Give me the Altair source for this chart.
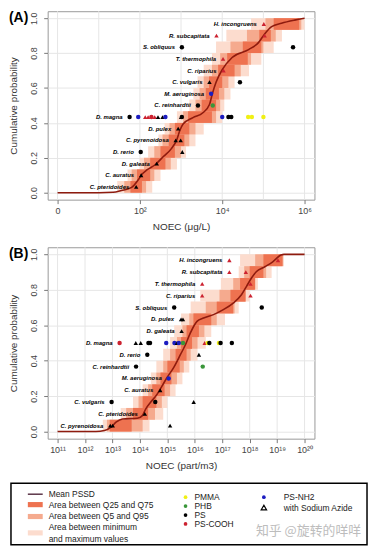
import altair as alt
import pandas as pd

# ---------------- shared categories / styles ----------------
polymers = ["PMMA", "PHB", "PS", "PS-COOH", "PS-NH2"]
polymer_colors = ["#F0F014", "#3A963A", "#000000", "#CC2230", "#1C1CC0"]
azide_levels = ["no", "yes"]
band_labels = ["Area between Q25 and Q75", "Area between Q5 and Q95",
               "Area between minimum\nand maximum values"]
band_colors = ["#EE7250", "#F5AA8E", "#FCDCCE"]
curve_label = "Mean PSSD"
azide_label = "with Sodium Azide"
watermark = "知乎 @旋转的咩咩"
prob_ticks = [0.0, 0.2, 0.4, 0.6, 0.8, 1.0]

# ---------------- Panel A (NOEC µg/L, log10) ----------------
a_species = ["C. pteridoides", "C. auratus", "D. galeata", "D. rerio", "C. pyrenoidosa",
             "D. pulex", "D. magna", "C. reinhardtii", "M. aeruginosa", "C. vulgaris",
             "C. riparius", "T. thermophila", "S. obliquus", "R. subcapitata", "H. incongruens"]
a_curve_x = [0.0, 1.0, 1.35, 1.55, 1.8, 1.97, 2.05, 2.17, 2.37, 2.57, 2.77, 2.89, 2.97, 3.05,
             3.29, 3.53, 3.69, 3.76, 3.85, 4.0, 4.24, 4.64, 4.88, 5.03, 5.2, 5.44, 5.76, 6.0]
a_curve_p = [0.0, 0.0, 0.002, 0.012, 0.03, 0.077, 0.105, 0.13, 0.16, 0.207, 0.254, 0.30, 0.356,
             0.393, 0.43, 0.458, 0.505, 0.567, 0.633, 0.705, 0.775, 0.82, 0.86, 0.91, 0.952,
             0.971, 0.989, 1.0]
a_mm_lo = [1.45, 1.7, 2.0, 2.2, 2.45, 2.6, 2.9, 3.2, 3.3, 3.4, 3.55, 3.75, 3.85, 4.1, 4.7]
a_mm_hi = [2.3, 2.5, 2.9, 3.12, 3.35, 3.55, 4.0, 4.05, 4.2, 4.3, 4.65, 4.95, 5.25, 5.45, 6.0]
a_q5_lo = [1.62, 1.8, 2.1, 2.35, 2.55, 2.72, 3.05, 3.35, 3.45, 3.55, 3.75, 3.95, 4.2, 4.6, 5.05]
a_q5_hi = [2.15, 2.35, 2.75, 3.0, 3.2, 3.35, 3.85, 3.95, 4.05, 4.15, 4.45, 4.7, 5.0, 5.3, 5.92]
a_q25_lo = [1.77, 1.93, 2.25, 2.5, 2.7, 2.85, 3.17, 3.5, 3.6, 3.68, 3.9, 4.12, 4.5, 4.9, 5.25]
a_q25_hi = [2.05, 2.25, 2.62, 2.85, 3.08, 3.2, 3.75, 3.85, 3.92, 4.0, 4.3, 4.62, 4.95, 5.18, 5.87]
a_pt_species = ["C. pteridoides", "C. auratus", "D. galeata", "D. rerio", "D. rerio",
                "C. pyrenoidosa", "C. pyrenoidosa", "D. pulex",
                "D. magna", "D. magna", "D. magna", "D. magna", "D. magna", "D. magna",
                "D. magna", "D. magna", "D. magna", "D. magna", "D. magna", "D. magna",
                "D. magna", "D. magna", "D. magna", "D. magna", "D. magna",
                "C. reinhardtii", "C. reinhardtii", "M. aeruginosa", "C. vulgaris", "C. vulgaris",
                "C. riparius", "T. thermophila", "S. obliquus", "S. obliquus",
                "R. subcapitata", "R. subcapitata", "H. incongruens"]
a_pt_x = [1.91, 2.03, 2.41, 2.02, 3.03,
          2.87, 2.99, 2.93,
          1.75, 1.96, 2.13, 2.2, 2.28, 2.36, 2.44, 2.55, 2.62, 3.0, 3.02, 4.0,
          4.63, 4.72, 5.0, 4.15, 4.22,
          3.41, 3.77, 3.73, 3.69, 4.43,
          4.03, 4.02, 3.02, 5.72,
          3.86, 5.03, 5.01]
a_pt_polymer = ["PS", "PS", "PS", "PS", "PS",
                "PS", "PS", "PS",
                "PS", "PS-NH2", "PS-COOH", "PS-COOH", "PS-COOH", "PS-COOH", "PS", "PS",
                "PS-NH2", "PS", "PS", "PS-NH2",
                "PMMA", "PMMA", "PMMA", "PS", "PS",
                "PS", "PHB", "PS-NH2", "PS", "PS",
                "PS-COOH", "PS-COOH", "PS", "PS",
                "PS-COOH", "PS-COOH", "PS-COOH"]
a_pt_azide = ["yes", "yes", "yes", "no", "yes",
              "yes", "yes", "yes",
              "no", "no", "yes", "yes", "no", "yes", "yes", "yes", "no", "yes", "no", "no",
              "no", "no", "no", "no", "no",
              "no", "no", "no", "yes", "no",
              "yes", "yes", "no", "no",
              "yes", "yes", "yes"]
a_x_domain = [-0.24, 6.24]
a_grid = [0, 1, 2, 3, 4, 5, 6]
a_tick_values = [0, 2, 4, 6]
a_tick_labels = ["0", "10²", "10⁴", "10⁶"]
a_x_title = "NOEC (μg/L)"

# ---------------- Panel B (NOEC part/m3, log10) ----------------
b_species = ["C. pyrenoidosa", "C. pteridoides", "C. vulgaris", "C. auratus", "M. aeruginosa",
             "C. reinhardtii", "D. rerio", "D. magna", "D. galeata", "D. pulex",
             "S. obliquus", "C. riparius", "T. thermophila", "R. subcapitata", "H. incongruens"]
b_curve_x = [11.0, 12.4, 12.71, 12.95, 13.13, 13.37, 13.91, 14.09, 14.21, 14.39, 14.63, 14.81,
             14.99, 15.23, 15.48, 15.66, 15.84, 16.08, 16.32, 16.68, 17.04, 17.40, 17.70,
             17.88, 18.06, 18.24, 18.55, 18.84, 19.14, 19.25, 20.0]
b_curve_p = [0.0, 0.0, 0.006, 0.025, 0.053, 0.071, 0.075, 0.09, 0.127, 0.165, 0.211, 0.258,
             0.305, 0.361, 0.435, 0.49, 0.557, 0.622, 0.641, 0.66, 0.688, 0.725, 0.772, 0.818,
             0.865, 0.902, 0.93, 0.958, 0.996, 1.0, 1.0]
b_mm_lo = [12.65, 13.3, 13.75, 14.1, 14.4, 14.6, 14.85, 15.1, 15.25, 15.5, 15.85, 16.2, 16.95, 17.6, 17.65]
b_mm_hi = [14.35, 14.85, 15.0, 15.3, 15.55, 15.8, 16.1, 16.4, 16.6, 17.1, 17.6, 18.0, 18.3, 18.8, 19.25]
b_q5_lo = [12.8, 13.5, 13.95, 14.3, 14.6, 14.85, 15.1, 15.35, 15.55, 15.8, 16.4, 16.9, 17.4, 17.8, 18.2]
b_q5_hi = [14.1, 14.55, 14.8, 15.1, 15.35, 15.6, 15.85, 16.1, 16.35, 16.8, 17.45, 17.85, 18.15, 18.6, 19.2]
b_q25_lo = [12.9, 13.75, 14.1, 14.45, 14.75, 15.0, 15.3, 15.5, 15.7, 15.95, 16.8, 17.3, 17.65, 18.0, 18.5]
b_q25_hi = [13.7, 14.3, 14.6, 14.9, 15.15, 15.45, 15.7, 15.9, 16.15, 16.6, 17.4, 17.85, 18.2, 18.5, 19.2]
b_pt_species = ["C. pyrenoidosa", "C. pyrenoidosa", "C. pyrenoidosa", "C. pteridoides",
                "C. vulgaris", "C. vulgaris", "C. vulgaris", "C. auratus", "M. aeruginosa",
                "C. reinhardtii", "C. reinhardtii", "D. rerio", "D. rerio",
                "D. magna", "D. magna", "D. magna", "D. magna", "D. magna", "D. magna",
                "D. magna", "D. magna", "D. magna", "D. magna", "D. magna", "D. magna",
                "D. magna", "D. magna", "D. magna", "D. magna",
                "D. galeata", "D. pulex", "D. pulex", "S. obliquus", "S. obliquus",
                "C. riparius", "C. riparius", "T. thermophila", "T. thermophila",
                "R. subcapitata", "R. subcapitata", "H. incongruens", "H. incongruens"]
b_pt_x = [12.92, 13.01, 15.10, 14.18,
          12.97, 14.56, 15.96, 14.74, 15.05,
          13.86, 16.29, 14.27, 16.15,
          13.26, 13.85, 14.03, 14.31, 14.37, 14.96, 15.26, 15.35, 15.42, 15.57, 16.36, 16.47,
          16.53, 16.88, 16.94, 17.35,
          15.52, 15.50, 15.57, 15.25, 18.44,
          16.27, 18.03, 16.27, 18.03,
          17.26, 17.86, 17.26, 19.03]
b_pt_polymer = ["PS", "PS", "PS", "PS",
                "PS", "PS", "PS", "PS", "PS-NH2",
                "PS", "PHB", "PS", "PS",
                "PS-COOH", "PS", "PS", "PS", "PS", "PS-NH2", "PS-NH2", "PS", "PS-NH2", "PHB",
                "PS-COOH", "PMMA", "PS", "PMMA", "PS", "PS",
                "PS", "PS", "PS", "PS", "PS",
                "PS-COOH", "PS-COOH", "PS-COOH", "PS-COOH",
                "PS-COOH", "PS-COOH", "PS-COOH", "PS-COOH"]
b_pt_azide = ["yes", "yes", "yes", "yes",
              "no", "no", "yes", "yes", "no",
              "no", "no", "no", "yes",
              "no", "yes", "yes", "no", "no", "no", "no", "yes", "no", "no", "yes", "no",
              "no", "no", "no", "no",
              "yes", "yes", "yes", "no", "no",
              "yes", "yes", "yes", "yes",
              "yes", "yes", "yes", "yes"]
b_x_domain = [10.64, 20.36]
b_grid = [11, 12, 13, 14, 15, 16, 17, 18, 19, 20]
b_tick_values = [11, 12, 13, 14, 15, 16, 17, 18, 19, 20]
b_tick_labels = ["10¹¹", "10¹²", "10¹³", "10¹⁴", "10¹⁵", "10¹⁶", "10¹⁷", "10¹⁸", "10¹⁹", "10²⁰"]
b_x_title = "NOEC (part/m3)"

FONT = "Liberation Sans"
color_scale = alt.Scale(domain=polymers, range=polymer_colors)
shape_scale = alt.Scale(domain=azide_levels, range=["circle", "triangle-up"])


def build_panel(tag, species, curve_x, curve_p, mm_lo, mm_hi, q5_lo, q5_hi, q25_lo, q25_hi,
                pt_species, pt_x, pt_polymer, pt_azide, x_domain, grid_vals, tick_vals,
                tick_labels, x_title, w, h):
    n = len(species)
    rows = pd.DataFrame({
        "species": species,
        "p": [(i + 0.5) / n for i in range(n)],
        "p_lo": [i / n for i in range(n)],
        "p_hi": [(i + 1) / n for i in range(n)],
        "mm_lo": mm_lo, "mm_hi": mm_hi,
        "q5_lo": q5_lo, "q5_hi": q5_hi,
        "q25_lo": q25_lo, "q25_hi": q25_hi,
    })
    pmap = dict(zip(rows["species"], rows["p"]))
    pts = pd.DataFrame({"species": pt_species, "x": pt_x, "polymer": pt_polymer,
                        "azide": pt_azide})
    pts["p"] = pts["species"].map(pmap)
    lab = pts.groupby("species", as_index=False)["x"].min().rename(columns={"x": "lx"})
    lab["p"] = lab["species"].map(pmap)
    curve = pd.DataFrame({"x": curve_x, "p": curve_p, "k": list(range(len(curve_x)))})
    grid = pd.DataFrame({"g": grid_vals})

    label_expr = " : ".join(f"datum.value == {v} ? '{t}'"
                            for v, t in zip(tick_vals, tick_labels)) + " : ''"
    x_axis = alt.Axis(values=tick_vals, labelExpr=label_expr, grid=False, domain=False,
                      tickSize=4, tickColor="#777", labelColor="#444", labelFontSize=9,
                      labelPadding=3, labelFont=FONT, title=x_title, titleFont=FONT,
                      titleFontSize=10, titleFontWeight="normal", titleColor="#333",
                      titlePadding=6)
    y_axis = alt.Axis(values=prob_ticks, format=".1f", grid=True, gridColor="#E6E6E6",
                      domain=False, tickSize=4, tickColor="#777", labelColor="#444",
                      labelFontSize=9, labelFont=FONT, labelAngle=270, labelAlign="center",
                      labelBaseline="bottom", labelPadding=5,
                      title="Cumulative probability", titleFont=FONT, titleFontSize=10,
                      titleFontWeight="normal", titleColor="#333", titlePadding=11)
    xs = alt.Scale(domain=x_domain, nice=False, zero=False)
    ys = alt.Scale(domain=[-0.04, 1.04], nice=False, zero=False)

    def X(f):
        return alt.X(f"{f}:Q", scale=xs, axis=x_axis)

    def Y(f):
        return alt.Y(f"{f}:Q", scale=ys, axis=y_axis)

    grid_layer = alt.Chart(grid).mark_rule(color="#E6E6E6", strokeWidth=1).encode(x=X("g"))
    band_layers = []
    for col, key in zip(reversed(band_colors), ["mm", "q5", "q25"]):
        band_layers.append(
            alt.Chart(rows).mark_rect(color=col, strokeWidth=0).encode(
                x=X(f"{key}_lo"), x2=f"{key}_hi:Q", y=Y("p_lo"), y2="p_hi:Q"))
    curve_layer = alt.Chart(curve).mark_line(
        color="#8E1B0E", strokeWidth=1.6, interpolate="monotone").encode(
        x=X("x"), y=Y("p"), order="k:Q")
    pt_layer = alt.Chart(pts).mark_point(filled=True, size=20, opacity=1).encode(
        x=X("x"), y=Y("p"),
        color=alt.Color("polymer:N", scale=color_scale, legend=None),
        shape=alt.Shape("azide:N", scale=shape_scale, legend=None))
    lab_layer = alt.Chart(lab).mark_text(
        align="right", baseline="middle", dx=-7, fontSize=6, fontWeight="bold",
        fontStyle="italic", font=FONT, color="#000").encode(
        x=X("lx"), y=Y("p"), text="species:N")
    return alt.layer(grid_layer, *band_layers, curve_layer, pt_layer, lab_layer).properties(
        width=w, height=h,
        title=alt.TitleParams(text=tag, anchor="start", frame="bounds", fontSize=14,
                              fontWeight="bold", font=FONT, color="#000", offset=-14))


panel_a = build_panel("(A)", a_species, a_curve_x, a_curve_p, a_mm_lo, a_mm_hi, a_q5_lo,
                      a_q5_hi, a_q25_lo, a_q25_hi, a_pt_species, a_pt_x, a_pt_polymer,
                      a_pt_azide, a_x_domain, a_grid, a_tick_values, a_tick_labels,
                      a_x_title, 269, 190)
panel_b = build_panel("(B)", b_species, b_curve_x, b_curve_p, b_mm_lo, b_mm_hi, b_q5_lo,
                      b_q5_hi, b_q25_lo, b_q25_hi, b_pt_species, b_pt_x, b_pt_polymer,
                      b_pt_azide, b_x_domain, b_grid, b_tick_values, b_tick_labels,
                      b_x_title, 269, 193)

# ---------------- legend panel (hand-built key) ----------------
BOX_W, BOX_H = 359, 62       # legend frame, in its own pixel-like units
PLOT_LEFT = 37               # where the aligned plot column starts inside the frame
lx = alt.Scale(domain=[PLOT_LEFT, BOX_W], nice=False, zero=False)
ly = alt.Scale(domain=[BOX_H, 0], nice=False, zero=False)


def LX(f):
    return alt.X(f"{f}:Q", scale=lx, axis=None)


def LY(f):
    return alt.Y(f"{f}:Q", scale=ly, axis=None)


LINE_H = 11.5
c1_rows = [21.5, 33.5, 50]
leg_frame = pd.DataFrame({"x0": [0], "x1": [BOX_W], "y0": [0], "y1": [BOX_H]})
leg_line = pd.DataFrame({"x0": [17], "x1": [32], "y": [11], "tx": [38], "label": [curve_label]})
leg_band = pd.DataFrame({"label": band_labels, "fill": band_colors,
                         "x0": [17] * 3, "x1": [32] * 3,
                         "y0": [r - 2.6 for r in c1_rows], "y1": [r + 2.6 for r in c1_rows],
                         "y": [r - lab.count("\n") * LINE_H / 2
                               for r, lab in zip(c1_rows, band_labels)],
                         "tx": [38] * 3})
poly_col = [176, 176, 176, 176, 255]
poly_row = [14, 23, 32, 41, 14]
leg_poly = pd.DataFrame({"polymer": polymers, "x": poly_col, "y": poly_row,
                         "tx": [c + 9 for c in poly_col[:4]] + [poly_col[4] + 20]})
leg_azide = pd.DataFrame({"x": [255], "y": [24.5], "tx": [275], "label": [azide_label]})
leg_mark = pd.DataFrame({"x": [247], "y": [48], "label": [watermark]})

txt = dict(align="left", baseline="middle", fontSize=8.5, font=FONT, color="#222")
legend = alt.layer(
    alt.Chart(leg_frame).mark_rect(filled=False, stroke="#000", strokeWidth=1.5).encode(
        x=LX("x0"), x2="x1:Q", y=LY("y0"), y2="y1:Q"),
    alt.Chart(leg_line).mark_rule(color="#5B3447", strokeWidth=1.5).encode(
        x=LX("x0"), x2="x1:Q", y=LY("y")),
    alt.Chart(leg_line).mark_text(**txt).encode(x=LX("tx"), y=LY("y"), text="label:N"),
    alt.Chart(leg_band).mark_rect().encode(
        x=LX("x0"), x2="x1:Q", y=LY("y0"), y2="y1:Q", fill=alt.Fill("fill:N", scale=None)),
    alt.Chart(leg_band).mark_text(lineBreak="\n", lineHeight=LINE_H, **txt).encode(
        x=LX("tx"), y=LY("y"), text="label:N"),
    alt.Chart(leg_poly).mark_point(filled=True, size=14, opacity=1, shape="circle").encode(
        x=LX("x"), y=LY("y"),
        color=alt.Color("polymer:N", scale=color_scale, legend=None)),
    alt.Chart(leg_poly).mark_text(**txt).encode(x=LX("tx"), y=LY("y"), text="polymer:N"),
    alt.Chart(leg_azide).mark_point(filled=False, shape="triangle-up", size=30,
                                    color="#000", strokeWidth=1.2, opacity=1).encode(
        x=LX("x"), y=LY("y")),
    alt.Chart(leg_azide).mark_text(**txt).encode(x=LX("tx"), y=LY("y"), text="label:N"),
    alt.Chart(leg_mark).mark_text(align="left", baseline="middle", fontSize=13,
                                  font="Noto Sans CJK SC", color="#BDBDBD").encode(
        x=LX("x"), y=LY("y"), text="label:N"),
).properties(width=BOX_W - PLOT_LEFT, height=BOX_H,
             view=alt.ViewBackground(stroke="transparent"))

chart = alt.vconcat(
    alt.vconcat(panel_a, panel_b, spacing=14),
    legend, spacing=10,
).properties(padding=0).configure_view(stroke="#999", strokeWidth=1)

chart.save("out.html", embed_options={"renderer": "svg", "actions": False})
